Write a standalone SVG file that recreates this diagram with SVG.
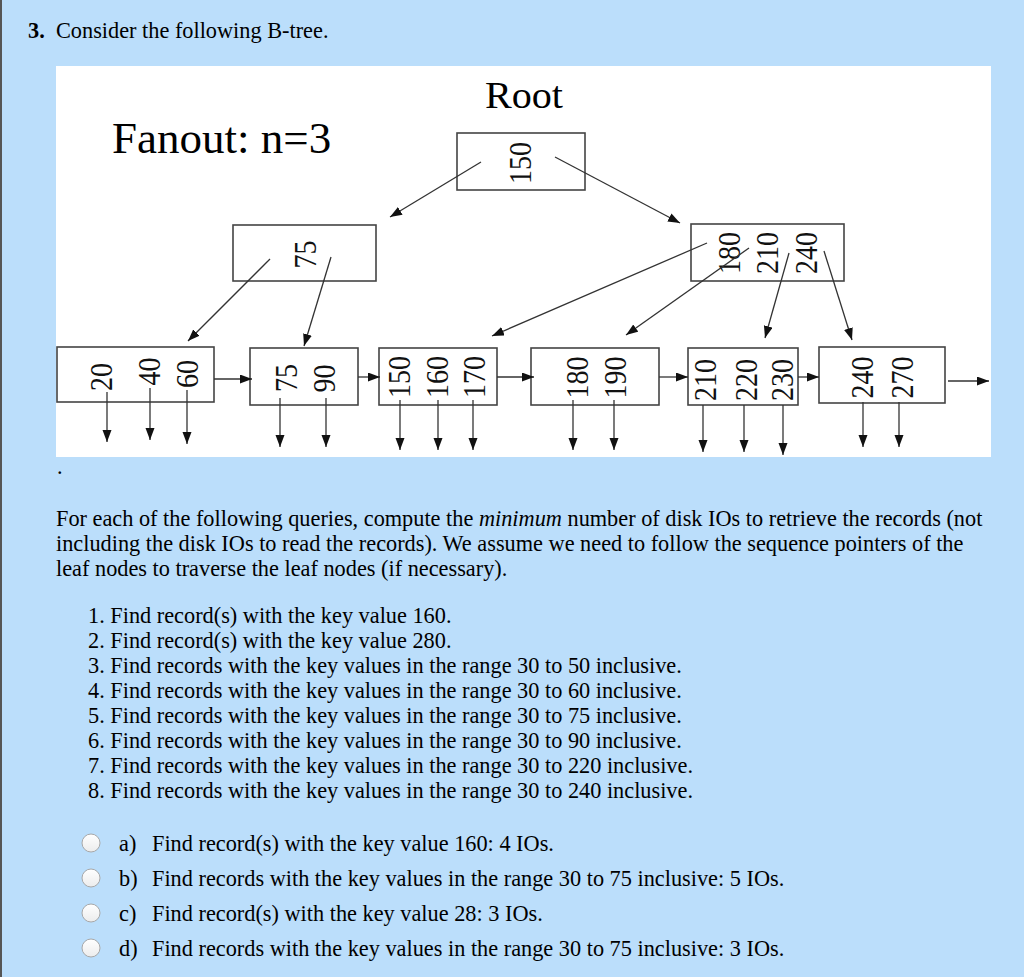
<svg xmlns="http://www.w3.org/2000/svg" width="1024" height="977" viewBox="0 0 1024 977">
<style>
.t{font-family:"Liberation Serif","Times New Roman",serif;fill:#000}
.b{font-size:22.3px}
.k{font-family:"Liberation Serif","Times New Roman",serif;font-size:28px;fill:#111;text-anchor:middle}
.box{fill:none;stroke:#444;stroke-width:1.6}
.ln{stroke:#333;stroke-width:1.3;fill:none;marker-end:url(#ah)}
.rb{fill:url(#rg);stroke:#a8a8a8;stroke-width:1}
</style>
<defs>
<marker id="ah" markerUnits="userSpaceOnUse" markerWidth="13" markerHeight="10" refX="12" refY="4.5" orient="auto">
<path d="M0,0 L12,4.5 L0,9 z" fill="#111"/>
</marker>
<linearGradient id="rg" x1="0" y1="0" x2="0" y2="1">
<stop offset="0" stop-color="#ffffff"/>
<stop offset="1" stop-color="#ececec"/>
</linearGradient>
</defs>
<rect x="0" y="0" width="1024" height="977" fill="#bbdefb"/>
<rect x="0" y="0" width="2" height="977" fill="#555"/>
<text class="t b" x="28" y="37.5" font-weight="bold">3.</text>
<text class="t b" x="56" y="37.5">Consider the following B-tree.</text>
<rect x="56" y="66" width="935" height="391" fill="#fff"/>
<text class="t" x="112" y="153" font-size="45">Fanout: n=3</text>
<text class="t" x="485" y="108" font-size="38" textLength="78" lengthAdjust="spacingAndGlyphs">Root</text>
<g id="root">
<rect class="box" x="457" y="133" width="128" height="57"/>
<text class="k" transform="translate(531,163) scale(1.12,1) rotate(-90)">150</text>
</g>
<g id="inner-left">
<rect class="box" x="233" y="225" width="143" height="56"/>
<text class="k" transform="translate(316,254.5) scale(1.12,1) rotate(-90)">75</text>
</g>
<g id="inner-right">
<rect class="box" x="691" y="224" width="153" height="57"/>
<text class="k" transform="translate(740,253) scale(1.12,1) rotate(-90)">180</text>
<text class="k" transform="translate(778,253) scale(1.12,1) rotate(-90)">210</text>
<text class="k" transform="translate(817,253) scale(1.12,1) rotate(-90)">240</text>
</g>
<g id="leaf1">
<rect class="box" x="57" y="347" width="157" height="55"/>
<text class="k" transform="translate(112,377) scale(1.12,1) rotate(-90)">20</text>
<text class="k" transform="translate(160,371.5) scale(1.12,1) rotate(-90)">40</text>
<text class="k" transform="translate(198,374) scale(1.12,1) rotate(-90)">60</text>
</g>
<g id="leaf2">
<rect class="box" x="250" y="348" width="108" height="57"/>
<text class="k" transform="translate(297,378) scale(1.12,1) rotate(-90)">75</text>
<text class="k" transform="translate(335,378.5) scale(1.12,1) rotate(-90)">90</text>
</g>
<g id="leaf3">
<rect class="box" x="379" y="348" width="118" height="57"/>
<text class="k" transform="translate(410,377) scale(1.12,1) rotate(-90)">150</text>
<text class="k" transform="translate(448,377) scale(1.12,1) rotate(-90)">160</text>
<text class="k" transform="translate(485,377) scale(1.12,1) rotate(-90)">170</text>
</g>
<g id="leaf4">
<rect class="box" x="531" y="348" width="128" height="57"/>
<text class="k" transform="translate(588,377.5) scale(1.12,1) rotate(-90)">180</text>
<text class="k" transform="translate(626,377.5) scale(1.12,1) rotate(-90)">190</text>
</g>
<g id="leaf5">
<rect class="box" x="688" y="348" width="110" height="57"/>
<text class="k" transform="translate(716,380) scale(1.12,1) rotate(-90)">210</text>
<text class="k" transform="translate(757,380) scale(1.12,1) rotate(-90)">220</text>
<text class="k" transform="translate(793,380) scale(1.12,1) rotate(-90)">230</text>
</g>
<g id="leaf6">
<rect class="box" x="819" y="347" width="126" height="56"/>
<text class="k" transform="translate(873,377.5) scale(1.12,1) rotate(-90)">240</text>
<text class="k" transform="translate(913,377.5) scale(1.12,1) rotate(-90)">270</text>
</g>
<g id="connectors">
<line class="ln" x1="481" y1="162" x2="390" y2="217"/>
<line class="ln" x1="555" y1="157" x2="680" y2="223"/>
<line class="ln" x1="270" y1="259" x2="188" y2="341"/>
<line class="ln" x1="331" y1="257" x2="304" y2="346"/>
<line class="ln" x1="707" y1="243" x2="492" y2="336"/>
<line class="ln" x1="749" y1="248" x2="626" y2="335"/>
<line class="ln" x1="789" y1="253" x2="765" y2="338"/>
<line class="ln" x1="824" y1="251" x2="852" y2="340"/>
<line class="ln" x1="214" y1="379" x2="252" y2="379"/>
<line class="ln" x1="358" y1="377" x2="380" y2="377"/>
<line class="ln" x1="497" y1="377" x2="534" y2="377"/>
<line class="ln" x1="659" y1="377" x2="688" y2="377"/>
<line class="ln" x1="798" y1="377" x2="819" y2="377"/>
<line class="ln" x1="948" y1="381" x2="989" y2="381"/>
<line class="ln" x1="107" y1="392" x2="107" y2="442"/>
<line class="ln" x1="150" y1="388" x2="150" y2="440"/>
<line class="ln" x1="187" y1="390" x2="187" y2="444"/>
<line class="ln" x1="280" y1="398" x2="280" y2="447"/>
<line class="ln" x1="326" y1="398" x2="326" y2="447"/>
<line class="ln" x1="400" y1="400" x2="400" y2="450"/>
<line class="ln" x1="438" y1="400" x2="438" y2="450"/>
<line class="ln" x1="473" y1="400" x2="473" y2="450"/>
<line class="ln" x1="573" y1="400" x2="573" y2="450"/>
<line class="ln" x1="614" y1="400" x2="614" y2="450"/>
<line class="ln" x1="703" y1="405" x2="703" y2="452"/>
<line class="ln" x1="744" y1="405" x2="744" y2="452"/>
<line class="ln" x1="783" y1="405" x2="783" y2="455"/>
<line class="ln" x1="863" y1="402" x2="863" y2="447"/>
<line class="ln" x1="899" y1="402" x2="899" y2="447"/>
</g>
<text class="t b" x="57" y="474">.</text>
<text class="t b" x="56" y="525.5">For each of the following queries, compute the <tspan font-style="italic">minimum</tspan> number of disk IOs to retrieve the records (not</text>
<text class="t b" x="56" y="550.5">including the disk IOs to read the records). We assume we need to follow the sequence pointers of the</text>
<text class="t b" x="56" y="575.5">leaf nodes to traverse the leaf nodes (if necessary).</text>
<g class="t b">
<text x="88" y="622.5">1. Find record(s) with the key value 160.</text>
<text x="88" y="647.5">2. Find record(s) with the key value 280.</text>
<text x="88" y="672.5">3. Find records with the key values in the range 30 to 50 inclusive.</text>
<text x="88" y="697.5">4. Find records with the key values in the range 30 to 60 inclusive.</text>
<text x="88" y="722.5">5. Find records with the key values in the range 30 to 75 inclusive.</text>
<text x="88" y="747.5">6. Find records with the key values in the range 30 to 90 inclusive.</text>
<text x="88" y="772.5">7. Find records with the key values in the range 30 to 220 inclusive.</text>
<text x="88" y="797.5">8. Find records with the key values in the range 30 to 240 inclusive.</text>
</g>
<g id="options">
<circle class="rb" cx="91" cy="843" r="9"/>
<circle class="rb" cx="91" cy="878" r="9"/>
<circle class="rb" cx="91" cy="913" r="9"/>
<circle class="rb" cx="91" cy="948" r="9"/>
<g class="t b">
<text x="119" y="850.5">a)</text><text x="152" y="850.5">Find record(s) with the key value 160: 4 IOs.</text>
<text x="119" y="885.5">b)</text><text x="152" y="885.5">Find records with the key values in the range 30 to 75 inclusive: 5 IOs.</text>
<text x="119" y="920.5">c)</text><text x="152" y="920.5">Find record(s) with the key value 28: 3 IOs.</text>
<text x="119" y="955.5">d)</text><text x="152" y="955.5">Find records with the key values in the range 30 to 75 inclusive: 3 IOs.</text>
</g>
</g>
</svg>
